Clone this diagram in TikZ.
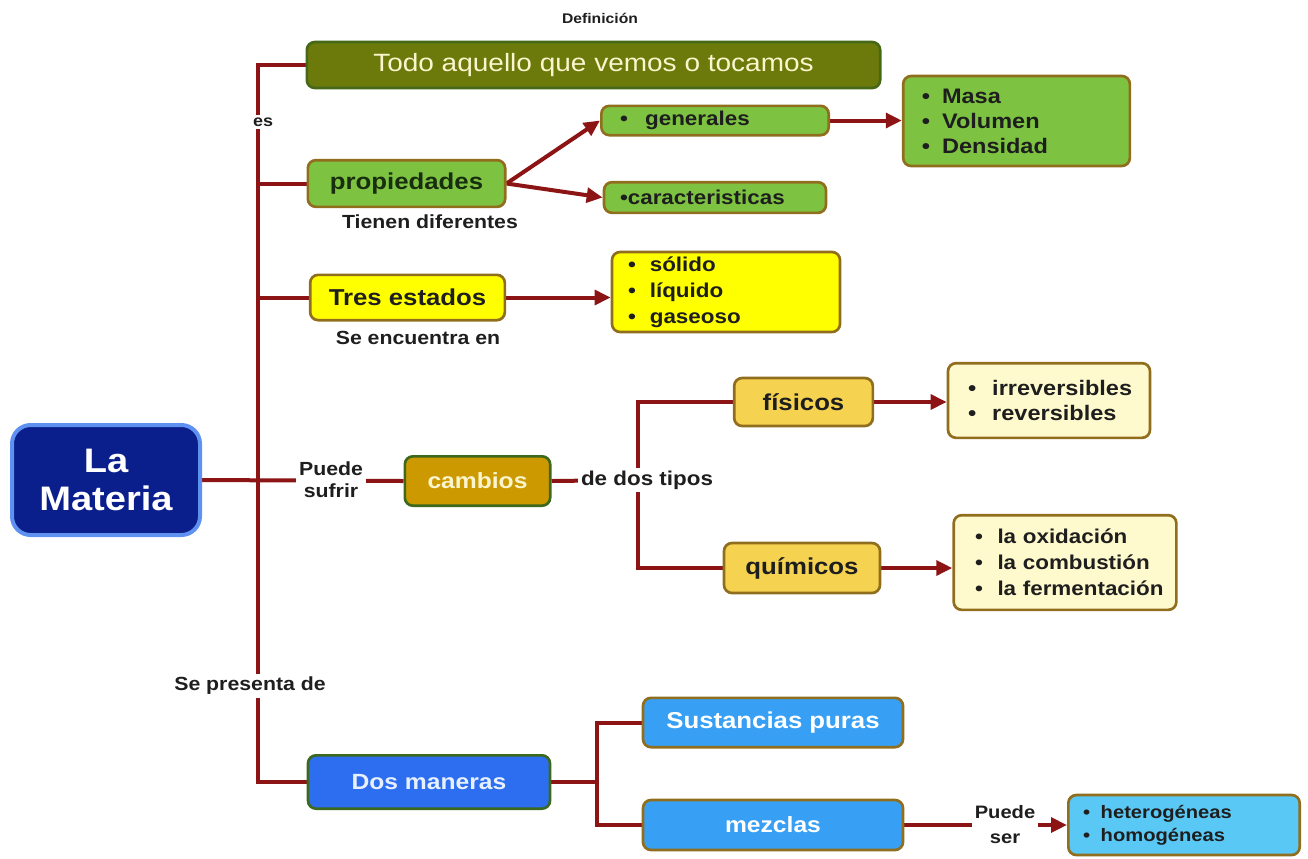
\documentclass[tikz,border=0pt]{standalone}
\usepackage{fontspec}
\setmainfont{Liberation Sans}[FakeStretch=1.12]
\usetikzlibrary{arrows.meta,backgrounds}

\definecolor{rojo}{RGB}{140,20,20}
\definecolor{texto}{RGB}{30,30,30}
\definecolor{azulosc}{RGB}{10,30,140}
\definecolor{azulbor}{RGB}{95,145,240}
\definecolor{oliva}{RGB}{107,122,10}
\definecolor{olivabor}{RGB}{70,105,25}
\definecolor{crema}{RGB}{250,245,205}
\definecolor{verde}{RGB}{125,195,65}
\definecolor{cafe}{RGB}{145,110,30}
\definecolor{amarillo}{RGB}{255,255,0}
\definecolor{ocre}{RGB}{204,153,0}
\definecolor{verdebor}{RGB}{60,105,30}
\definecolor{oro}{RGB}{245,210,80}
\definecolor{marfil}{RGB}{255,250,205}
\definecolor{azul}{RGB}{45,110,240}
\definecolor{celeste}{RGB}{55,160,245}
\definecolor{cielo}{RGB}{90,200,245}

\newcommand{\fpx}[2]{\fontsize{#1}{#2}\selectfont}
\newcommand{\punto}[2][10pt]{\mbox{•\hspace{#1}#2}}

\begin{document}
\begin{tikzpicture}[x=0.75pt, y=-0.75pt,
  caja/.style={draw, rounded corners=6pt, line width=2pt, inner sep=0pt, font=\bfseries, text=texto},
  verdecaja/.style={caja, fill=verde, draw=cafe},
  amacaja/.style={caja, fill=amarillo, draw=cafe},
  orocaja/.style={caja, fill=oro, draw=cafe},
  marfcaja/.style={caja, fill=marfil, draw=cafe},
  celcaja/.style={caja, fill=celeste, draw=cafe, text=white},
  lista/.style={align=left},
  etiqueta/.style={font=\bfseries\fpx{14.25}{16.5}, text=texto, fill=white, inner sep=2pt, align=center},
  enlace/.style={line width=3pt, draw=rojo},
  flecha/.style={enlace, -{Triangle[length=12pt,width=11pt]}}]
\useasboundingbox (0,0) rectangle (1308,858);

% Nodo central
\node[caja, rounded corners=14pt, line width=3pt, fill=azulosc, draw=azulbor, text=white,
  minimum width=141pt, minimum height=82.5pt, align=center, font=\bfseries\fpx{25.5}{28.5}]
  (materia) at (106,480) {La\\Materia};

% Definicion
\node[font=\bfseries\fpx{10.5}{12}, text=texto] (tdef) at (600,18) {Definición};
\node[caja, fill=oliva, draw=olivabor, text=crema, font=\mdseries\fpx{18.75}{22},
  minimum width=430pt, minimum height=34.5pt] (todo) at (593.5,65) {Todo aquello que vemos o tocamos};
\node[etiqueta, font=\bfseries\fpx{12}{14}] (tes) at (263,122) {es};

% Propiedades
\node[verdecaja, text={rgb,255:red,25;green,45;blue,15}, font=\bfseries\fpx{17.25}{20},
  minimum width=148pt, minimum height=35pt] (prop) at (406.5,183.5) {propiedades};
\node[etiqueta, fill=none] (tdif) at (430,222) {Tienen diferentes};
\node[verdecaja, lista, font=\bfseries\fpx{15}{18}, text width=142.5pt, inner xsep=14pt,
  minimum height=22pt] (gen) at (715,120.5) {\punto[13pt]{generales}};
\node[verdecaja, lista, font=\bfseries\fpx{15}{18}, text width=142.5pt, inner xsep=12pt,
  minimum height=23pt] (car) at (715,197.5) {\punto[0pt]{caracteristicas}};
\node[verdecaja, lista, font=\bfseries\fpx{15.75}{18.75}, text width=142pt, inner xsep=14pt,
  minimum height=67.5pt] (masa) at (1016.5,121)
  {\punto[9pt]{Masa}\\\punto[9pt]{Volumen}\\\punto[9pt]{Densidad}};

% Estados
\node[amacaja, font=\bfseries\fpx{17.25}{20}, minimum width=146pt, minimum height=34pt]
  (tres) at (407.5,297.5) {Tres estados};
\node[etiqueta, fill=none] (tenc) at (418,338) {Se encuentra en};
\node[amacaja, lista, font=\bfseries\fpx{15}{19.5}, text width=147pt, inner xsep=12pt,
  minimum height=60pt] (sol) at (726,292)
  {\punto[10.5pt]{sólido}\\\punto[10.5pt]{líquido}\\\punto[10.5pt]{gaseoso}};

% Cambios
\node[etiqueta, font=\bfseries\fpx{14.25}{16.5}] (tsuf) at (331,480) {Puede\\sufrir};
\node[caja, fill=ocre, draw=verdebor, text=crema, font=\bfseries\fpx{16.5}{19},
  minimum width=109pt, minimum height=37pt] (cambios) at (477.5,481) {cambios};
\node[etiqueta, font=\bfseries\fpx{15}{18}] (ttip) at (647,480) {de dos tipos};
\node[orocaja, font=\bfseries\fpx{17.25}{20}, minimum width=104pt, minimum height=36pt]
  (fis) at (803.5,402) {físicos};
\node[orocaja, font=\bfseries\fpx{17.25}{20}, minimum width=117pt, minimum height=37.5pt]
  (qui) at (802,568) {químicos};
\node[marfcaja, lista, font=\bfseries\fpx{15.75}{18.75}, text width=121.5pt, inner xsep=15pt,
  minimum height=56pt] (irr) at (1049,400.5)
  {\punto[12pt]{irreversibles}\\\punto[12pt]{reversibles}};
\node[marfcaja, lista, font=\bfseries\fpx{15}{19.5}, text width=135pt, inner xsep=16pt,
  minimum height=71pt] (oxi) at (1065,562.5)
  {\punto[11pt]{la oxidación}\\\punto[11pt]{la combustión}\\\punto[11pt]{la fermentación}};

% Maneras
\node[etiqueta] (tpre) at (250,686) {Se presenta de};
\node[caja, fill=azul, draw=verdebor, text={rgb,255:red,230;green,240;blue,255},
  font=\bfseries\fpx{16.5}{19}, minimum width=181.5pt, minimum height=40pt]
  (dos) at (429,782) {Dos maneras};
\node[celcaja, font=\bfseries\fpx{17.25}{20}, minimum width=195pt, minimum height=37pt]
  (sus) at (773,722.5) {Sustancias puras};
\node[celcaja, font=\bfseries\fpx{16.5}{19}, minimum width=195pt, minimum height=37.5pt]
  (mez) at (773,825) {mezclas};
\node[etiqueta, font=\bfseries\fpx{13.5}{18.75}] (tser) at (1005,825) {Puede\\ser};
\node[caja, fill=cielo, draw=cafe, lista, font=\bfseries\fpx{13.5}{17.25}, text width=151.5pt,
  inner xsep=11pt, minimum height=45pt] (het) at (1184,825)
  {\punto[8pt]{heterogéneas}\\\punto[8pt]{homogéneas}};

% Enlaces
\coordinate (ttop) at (258,65);
\coordinate (tbot) at (258,782);
\coordinate (csplit) at (638,480);
\coordinate (dsplit) at (597,782);
\begin{scope}[on background layer]
\draw[enlace] (todo.west) -- (ttop) -- (tbot) -- (dos.west);
\draw[enlace] (prop.west) -- (prop.west -| ttop);
\draw[enlace] (tres.west) -- (tres.west -| ttop);
\draw[enlace] (materia.east) -- (cambios.west);
\draw[enlace] (cambios.east) -- (csplit);
\draw[enlace] (fis.west) -| (csplit) |- (qui.west);
\draw[enlace] (dos.east) -- (dsplit);
\draw[enlace] (sus.west) -| (dsplit) |- (mez.west);
\draw[enlace] (mez.east) -- (tser.west);
\draw[flecha] (prop.east) -- (gen.west);
\draw[flecha] (prop.east) -- (car.west);
\draw[flecha] (gen.east) -- (gen.east -| masa.west);
\draw[flecha] (tres.east) -- (tres.east -| sol.west);
\draw[flecha] (fis.east) -- (fis.east -| irr.west);
\draw[flecha] (qui.east) -- (qui.east -| oxi.west);
\draw[flecha] (tser.east) -- (tser.east -| het.west);
\end{scope}
\end{tikzpicture}
\end{document}
